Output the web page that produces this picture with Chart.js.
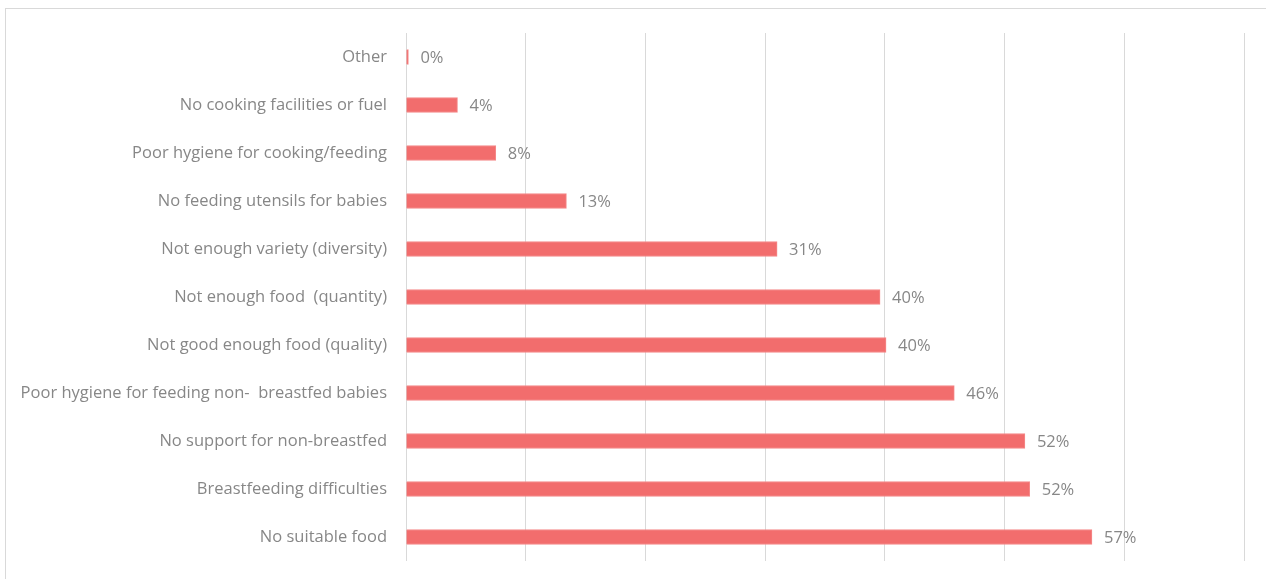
<!DOCTYPE html>
<html>
<head>
<meta charset="utf-8">
<script src="https://cdn.jsdelivr.net/npm/chart.js@4.4.0/dist/chart.umd.min.js"></script>
<style>
  html, body { margin: 0; padding: 0; background: #fff; overflow: hidden; }
  .frame { position: absolute; left: 5px; top: 8px; width: 1300px; height: 600px; border: 1px solid #d9d9d9; }
  #chart { position: absolute; left: 0; top: 0; }
</style>
</head>
<body>
<div class="frame"></div>
<canvas id="chart" width="1266" height="579"></canvas>
<script>
const categories = [
  'Other',
  'No cooking facilities or fuel',
  'Poor hygiene for cooking/feeding',
  'No feeding utensils for babies',
  'Not enough variety (diversity)',
  'Not enough food  (quantity)',
  'Not good enough food (quality)',
  'Poor hygiene for feeding non-  breastfed babies',
  'No support for non-breastfed',
  'Breastfeeding difficulties',
  'No suitable food'
];
const values = [0.2, 4.3, 7.5, 13.4, 31.0, 39.6, 40.1, 45.8, 51.7, 52.1, 57.3];
const valueLabels = ['0%', '4%', '8%', '13%', '31%', '40%', '40%', '46%', '52%', '52%', '57%'];

const textGray = '#878787';
const fontFamily = '"Open Sans", sans-serif';

const barLabels = {
  id: 'barLabels',
  afterDatasetsDraw(chart) {
    const ctx = chart.ctx;
    const meta = chart.getDatasetMeta(0);
    ctx.save();
    ctx.font = '16.5px ' + fontFamily;
    ctx.fillStyle = textGray;
    ctx.textAlign = 'left';
    ctx.textBaseline = 'middle';
    meta.data.forEach((bar, i) => {
      ctx.fillText(valueLabels[i], bar.x + 12, bar.y + 1);
    });
    ctx.restore();
  }
};

new Chart(document.getElementById('chart'), {
  type: 'bar',
  data: {
    labels: categories,
    datasets: [{
      data: values,
      backgroundColor: '#f26d6d',
      borderColor: '#f58a8a',
      borderWidth: 1,
      barThickness: 15
    }]
  },
  plugins: [barLabels],
  options: {
    indexAxis: 'y',
    responsive: false,
    animation: false,
    layout: { padding: { top: 33, bottom: 18, right: 22, left: 0 } },
    plugins: {
      legend: { display: false },
      tooltip: { enabled: false }
    },
    scales: {
      x: {
        min: 0,
        max: 70,
        ticks: { display: false, stepSize: 10 },
        grid: { color: '#d9d9d9', lineWidth: 1, drawTicks: false },
        border: { display: false },
        afterFit(scale) { scale.height = 0; }
      },
      y: {
        grid: { display: false, drawTicks: false },
        border: { display: false },
        ticks: {
          color: textGray,
          padding: 19,
          font: { family: fontFamily, size: 16.5 }
        },
        afterFit(scale) {
          scale.width = 406;
          scale.paddingTop = 0;
          scale.paddingBottom = 0;
        }
      }
    }
  }
});
</script>
</body>
</html>
